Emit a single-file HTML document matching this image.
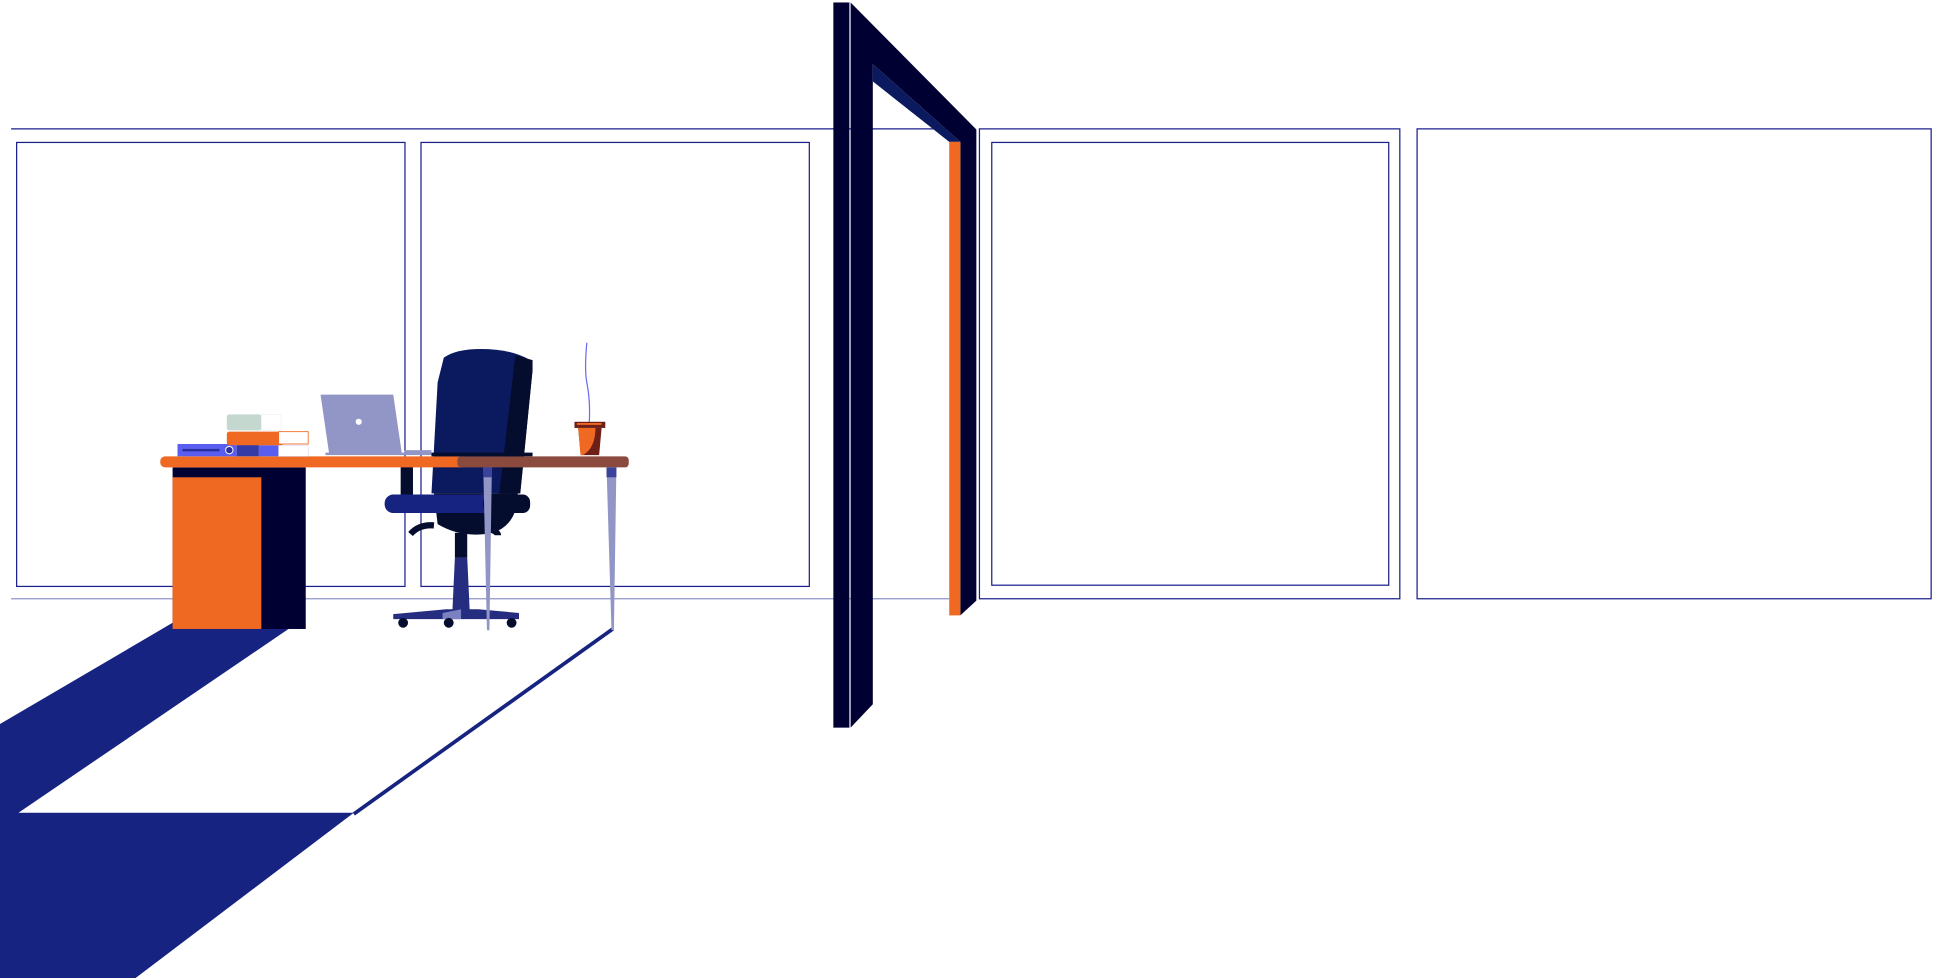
<!DOCTYPE html>
<html><head><style>html,body{margin:0;padding:0;background:#fff;width:1933px;height:978px;overflow:hidden}</style></head>
<body>
<svg width="1933" height="978" viewBox="0 0 1568 793" preserveAspectRatio="none" xmlns="http://www.w3.org/2000/svg">
<rect width="1568" height="793" fill="#fff"/>
<!-- window lines -->
<g fill="none" stroke="#1a1f8c" stroke-width="1">
<line x1="9" y1="104.5" x2="770" y2="104.5"/>
<line x1="9" y1="485.5" x2="770" y2="485.5" stroke="#8f95c8"/>
<rect x="13.5" y="115.5" width="315" height="360"/>
<rect x="341.5" y="115.5" width="315" height="360"/>
<rect x="794.5" y="104.5" width="341" height="381"/>
<rect x="804.5" y="115.5" width="322" height="359"/>
<rect x="1149.5" y="104.5" width="417" height="381"/>
</g>
<!-- floor shadow -->
<polygon points="0,587 140,505 234,510 15,659 287,659 110,793 0,793" fill="#162381"/>
<line x1="287" y1="660" x2="497" y2="510" stroke="#162381" stroke-width="3"/>
<!-- door -->
<rect x="676" y="2" width="13" height="588" fill="#000033"/>
<polygon points="690,2 792,105 792,487 779,499 779,115 708,52 708,571 690,590" fill="#000033"/>
<polygon points="708,52 779,115 770,115 708,66" fill="#0b1a5e"/>
<rect x="770" y="115" width="9" height="384" fill="#f06922"/>
<!-- desk cabinet -->
<rect x="140" y="379" width="108" height="131" fill="#000033"/>
<rect x="140" y="387" width="72" height="123" fill="#f06922"/>
<!-- chair -->
<rect x="325" y="378" width="10" height="25" fill="#050d2e"/>
<path d="M360,290 Q370,283 390,283 Q415,283 430,292 L432,300 L422,400 L350,400 L355,310 Z" fill="#0b1a5e"/>
<path d="M418,288 L432,292 L432,300 L422,400 L405,400 Z" fill="#050d2e"/>
<path d="M352,400 L420,400 Q420,425 400,432 Q375,437 355,425 Z" fill="#050d2e"/>
<rect x="312" y="401" width="118" height="15" rx="7" fill="#162381"/>
<rect x="392" y="401" width="38" height="15" rx="6" fill="#050d2e"/>
<path d="M333,433 Q340,425 352,426" stroke="#050d2e" stroke-width="5" fill="none"/>
<path d="M400,430 Q404,432 404,434" stroke="#050d2e" stroke-width="5" fill="none"/>
<rect x="369" y="432" width="10" height="20" fill="#050d2e"/>
<polygon points="369,452 379,452 381,495 367,495" fill="#252d80"/>
<polygon points="319,498 362,494 388,494 421,497 421,502 319,502" fill="#252d80"/>
<polygon points="359,497 374,494 374,502 359,502" fill="#7a80c0"/>
<circle cx="327" cy="505" r="4" fill="#050d2e"/><circle cx="364" cy="505" r="4" fill="#050d2e"/><circle cx="415" cy="505" r="4" fill="#050d2e"/>
<!-- desk top -->
<rect x="130" y="370" width="250" height="9" rx="4" fill="#f06922"/>
<rect x="371" y="370" width="139" height="9" rx="3" fill="#8b4a3e"/>
<!-- legs -->
<polygon points="392,379 399,379 397,511 395,511" fill="#9296c6"/>
<rect x="392" y="379" width="7" height="8" fill="#3b429a"/>
<polygon points="492,379 500,379 498,511 496,511" fill="#9296c6"/>
<rect x="492" y="379" width="8" height="8" fill="#3b429a"/>
<!-- books -->
<rect x="144" y="360" width="48" height="10" fill="#5a5ef0"/>
<rect x="148" y="364" width="30" height="2" fill="#2a2fa0"/>
<circle cx="186" cy="365" r="3" fill="#2a2fa0" stroke="#fff" stroke-width="0.8"/>
<rect x="192" y="360" width="18" height="10" fill="#343aa6"/>
<rect x="210" y="361" width="16" height="9" fill="#5a5ef0"/>
<rect x="226" y="361" width="24" height="9" fill="#fff" stroke="#d8d8f0" stroke-width="0.5"/>
<rect x="184" y="350" width="46" height="11" rx="2" fill="#f06922"/>
<rect x="226" y="350" width="24" height="10" fill="#fff" stroke="#f06922" stroke-width="0.7"/>
<rect x="184" y="336" width="28" height="13" rx="2" fill="#c5d8d0"/>
<rect x="212" y="336" width="16" height="13" fill="#fff" stroke="#eee" stroke-width="0.5"/>
<!-- laptop -->
<polygon points="260,320 319,320 326,368 267,368" fill="#9296c6"/>
<circle cx="291" cy="342" r="2.5" fill="#fff"/>
<rect x="264" y="367" width="66" height="2" fill="#9296c6"/>
<rect x="328" y="365" width="22" height="4" fill="#9296c6"/>
<rect x="350" y="367" width="82" height="3" fill="#050d2e"/>
<!-- cup -->
<path d="M476,278 Q474,300 476,310 Q479,325 478,342" stroke="#6b6cf0" stroke-width="1" fill="none"/>
<rect x="466" y="342" width="25" height="5" fill="#6e2018"/>
<rect x="468" y="343" width="20" height="1.5" fill="#f06922"/>
<polygon points="469,347 488,347 486,369 471,369" fill="#6e2018"/>
<path d="M469,347 L483,347 Q483,363 473,369 L471,369 Z" fill="#f06922"/>
</svg>
</body></html>
